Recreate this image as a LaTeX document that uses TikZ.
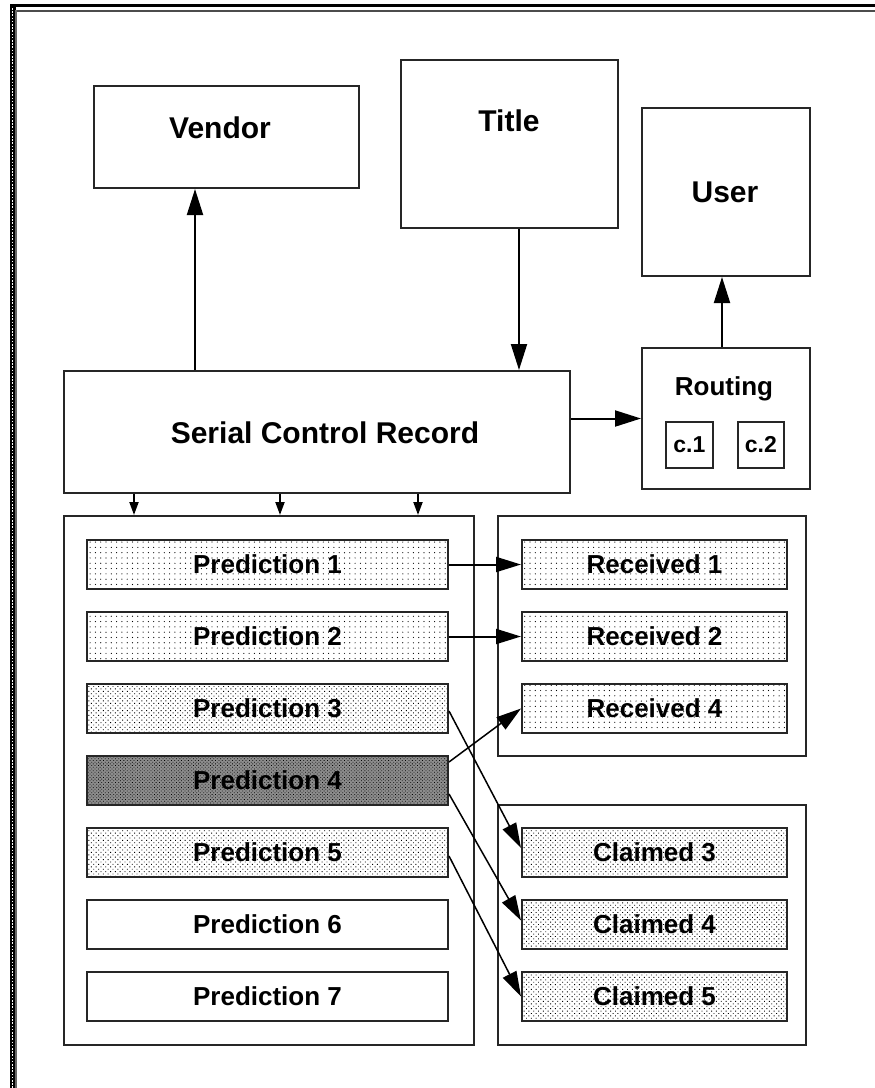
\documentclass[tikz,border=0pt]{standalone}
\usepackage{fontspec}
\setmainfont{Liberation Sans}
\usetikzlibrary{arrows.meta,patterns.meta}
\begin{document}
\begin{tikzpicture}[x=1pt,y=-1pt,
  box/.style={draw=black!85, line width=2pt, inner sep=0pt, anchor=north west},
  big/.style={font=\bfseries\fontsize{30}{36}\selectfont, anchor=base, inner sep=0pt},
  small/.style={font=\bfseries\fontsize{26}{30}\selectfont},
  arr/.style={draw=black, line width=2pt, -{Triangle[length=26pt,width=16pt]}},
  sarr/.style={draw=black, line width=2pt, -{Triangle[length=13pt,width=9pt]}},
  darr/.style={draw=black, line width=1.5pt, -{Triangle[length=25pt,width=15pt]}},
  light/.style={pattern={Dots[distance=5.3pt,radius=0.6pt]}},
  medium/.style={pattern={Dots[distance=3.4pt,radius=0.65pt,angle=45]}},
  dark/.style={preaction={fill=black!45}, pattern={Dots[distance=2.4pt,radius=0.55pt,angle=45]}},
  predw/.style={minimum width=361pt, minimum height=49pt},
]
\useasboundingbox (0,0) rectangle (875,1088);
% window frame
\fill[black] (10,3.5) rectangle (875,7);
\draw[black!70, line width=2pt] (10,10.5) -- (875,10.5);
\fill[black] (10,3.5) rectangle (16,1088);
\draw[white, line width=1.6pt, dash pattern=on 1.6pt off 1.6pt] (12.6,8) -- (12.6,1088);
\draw[black!60, line width=1.2pt] (16,10) -- (16,1088);

% top boxes
\node[box, minimum width=265pt, minimum height=102pt] (vendor) at (93,85) {};
\node[big] (vendorT) at (220,138) {Vendor};
\node[box, minimum width=217pt, minimum height=168pt] (title) at (400,59) {};
\node[big] (titleT) at (509,131) {Title};
\node[box, minimum width=168pt, minimum height=168pt] (user) at (641,107) {};
\node[big] (userT) at (725,202) {User};

\node[box, minimum width=506pt, minimum height=122pt] (scr) at (63,370) {};
\node[big] (scrT) at (325,443) {Serial Control Record};
\node[box, minimum width=168pt, minimum height=141pt] (routing) at (641,347) {};
\node[small, anchor=base, inner sep=0pt] (routingT) at (724,395) {Routing};
\node[box, line width=1.6pt, minimum width=47pt, minimum height=46pt, font=\bfseries\fontsize{23}{28}\selectfont] (c1) at (665,421) {c.1};
\node[box, line width=1.6pt, minimum width=46pt, minimum height=46pt, font=\bfseries\fontsize{23}{28}\selectfont] (c2) at (737,421) {c.2};

% containers
\node[box, minimum width=410pt, minimum height=529pt] (predbox) at (63,515) {};
\node[box, minimum width=308pt, minimum height=240pt] (recbox) at (497,515) {};
\node[box, minimum width=308pt, minimum height=240pt] (clmbox) at (497,804) {};

% predictions
\node[box, predw, light, small] (p1) at (86,539) {Prediction 1};
\node[box, predw, light, small] (p2) at (86,611) {Prediction 2};
\node[box, predw, medium, small] (p3) at (86,683) {Prediction 3};
\node[box, predw, dark, small] (p4) at (86,755) {Prediction 4};
\node[box, predw, medium, small] (p5) at (86,827) {Prediction 5};
\node[box, predw, small] (p6) at (86,899) {Prediction 6};
\node[box, predw, small] (p7) at (86,971) {Prediction 7};

% received / claimed
\node[box, minimum width=265pt, minimum height=49pt, light, small] (r1) at (521,539) {Received 1};
\node[box, minimum width=265pt, minimum height=49pt, light, small] (r2) at (521,611) {Received 2};
\node[box, minimum width=265pt, minimum height=49pt, light, small] (r4) at (521,683) {Received 4};
\node[box, minimum width=265pt, minimum height=49pt, medium, small] (c3) at (521,827) {Claimed 3};
\node[box, minimum width=265pt, minimum height=49pt, medium, small] (c4) at (521,899) {Claimed 4};
\node[box, minimum width=265pt, minimum height=49pt, medium, small] (c5) at (521,971) {Claimed 5};

% connector columns
\coordinate (va) at (195,0);
\coordinate (ta) at (519,0);
\coordinate (ua) at (722,0);
\coordinate (s1) at (134,0);
\coordinate (s2) at (280,0);
\coordinate (s3) at (418,0);

\draw[arr] (scr.north -| va) -- (vendor.south -| va);
\draw[arr] (title.south -| ta) -- (scr.north -| ta);
\draw[arr] (routing.north -| ua) -- (user.south -| ua);
\draw[arr] (scr.east |- routing.west) -- (routing.west);

\draw[sarr] (scr.south -| s1) -- (predbox.north -| s1);
\draw[sarr] (scr.south -| s2) -- (predbox.north -| s2);
\draw[sarr] (scr.south -| s3) -- (predbox.north -| s3);

\draw[darr, line width=2pt] (p1.east) -- (r1.west);
\draw[darr, line width=2pt] (p2.east) -- (r2.west);
\draw[darr] ([yshift=-2.5pt]p3.east) -- ([yshift=4.5pt]c3.west);
\draw[darr] ([yshift=-7pt]p4.north east) -- (r4.west);
\draw[darr] ([yshift=12pt]p4.south east) -- ([yshift=4pt]c4.west);
\draw[darr] ([yshift=-3.5pt]p5.east) -- (c5.west);
\end{tikzpicture}
\end{document}
